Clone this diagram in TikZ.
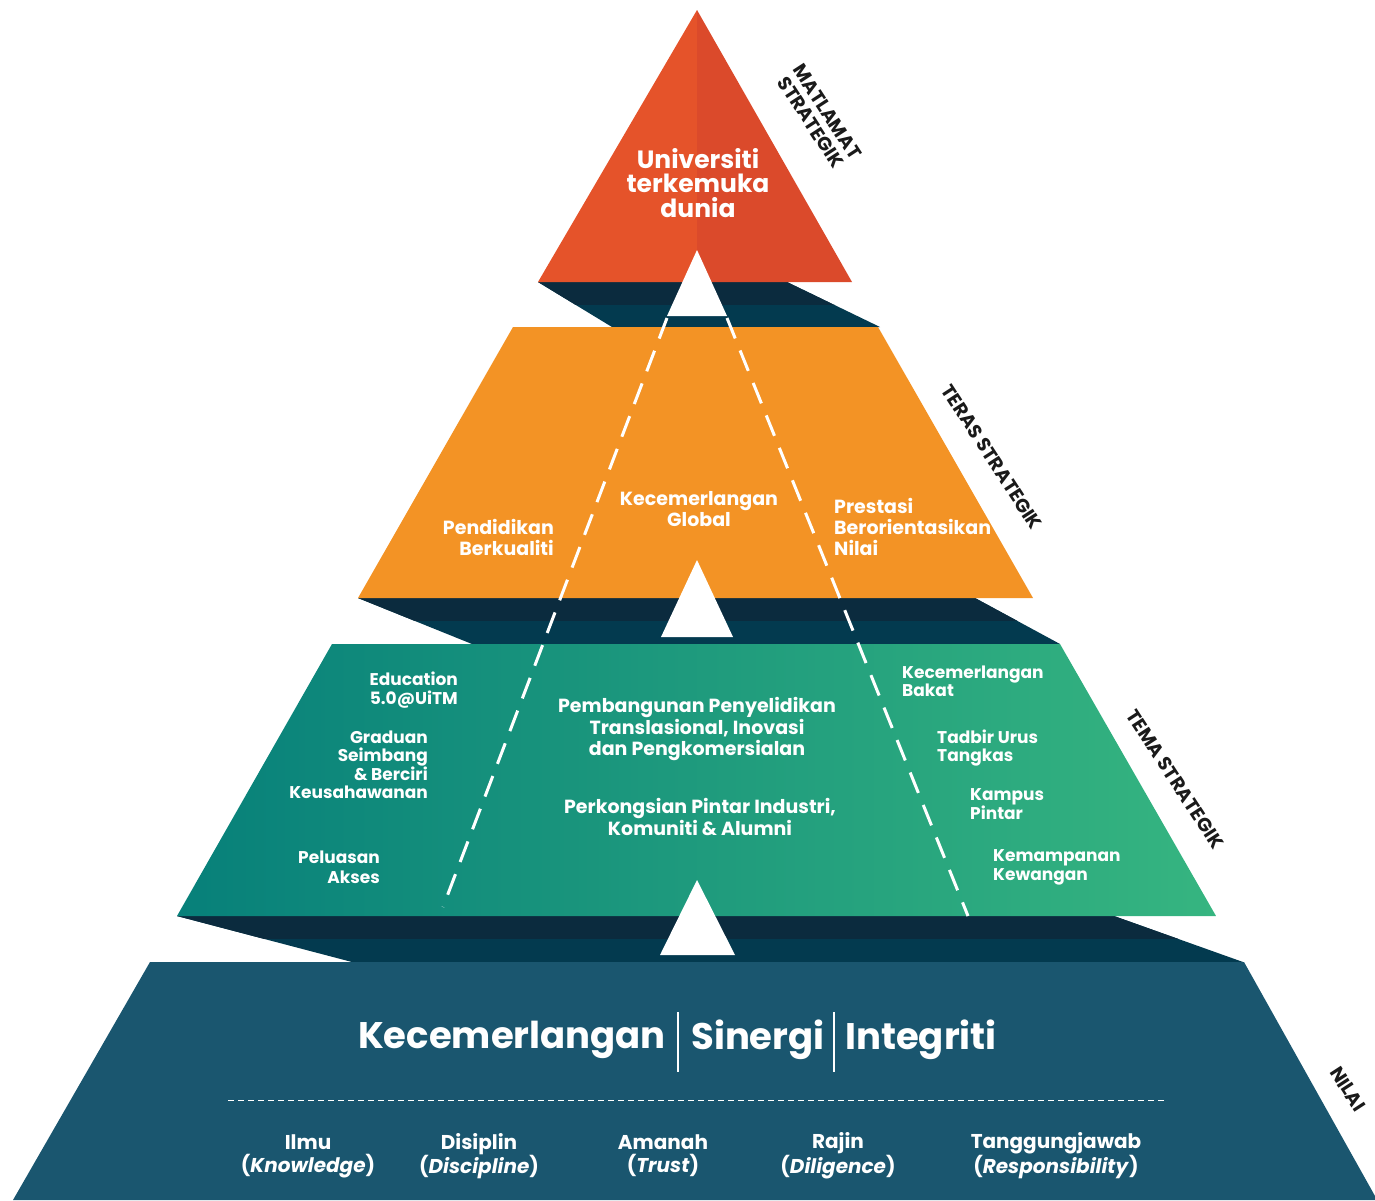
\documentclass[tikz,border=0pt]{standalone}
\usepackage{fontspec}
\setmainfont{Poppins}
\definecolor{topL}{HTML}{E5532A}
\definecolor{topR}{HTML}{DB4A2B}
\definecolor{orng}{HTML}{F39325}
\definecolor{shadA}{HTML}{0B2B3E}
\definecolor{shadB}{HTML}{033A4F}
\definecolor{tealL}{HTML}{07807A}
\definecolor{tealR}{HTML}{36B580}
\definecolor{navy}{HTML}{1A566F}
\definecolor{lbl}{HTML}{1A1A1A}
\newcommand\myfs[2]{\fontsize{#1}{#2}\selectfont}
\tikzset{
  wt/.style={text=white, font=\bfseries, inner sep=0pt},
  lab/.style={text=lbl, inner sep=0pt, rotate=-57, align=center, font=\bfseries\myfs{19}{19.5}},
  roadline/.style={white, line width=3pt, dash pattern=on 22pt off 13pt},
  whitetri/.style={fill=white},
  sepbar/.style={white, line width=2pt},
}
\begin{document}
\begin{tikzpicture}[x=1pt,y=-1pt]
\useasboundingbox (0,0) rectangle (1375,1200);
% ---------- shadow bands ----------
\fill[shadB] (538,282) -- (787,282) -- (880,327) -- (612,327) -- cycle;
\begin{scope}\clip (0,282) rectangle (1375,304);
\fill[shadA] (538,282) -- (787,282) -- (880,327) -- (612,327) -- cycle;
\end{scope}
\fill[shadB] (358,598) -- (975,598) -- (1060,644) -- (472,644) -- cycle;
\begin{scope}\clip (0,598) rectangle (1375,620);
\fill[shadA] (358,598) -- (975,598) -- (1060,644) -- (472,644) -- cycle;
\end{scope}
\fill[shadB] (177,916) -- (1114,916) -- (1243,962) -- (352,962) -- cycle;
\begin{scope}\clip (0,916) rectangle (1375,938);
\fill[shadA] (177,916) -- (1114,916) -- (1243,962) -- (352,962) -- cycle;
\end{scope}
% ---------- top triangle ----------
\fill[topL] (697,10) -- (697,282) -- (538,282) -- cycle;
\fill[topR] (697,10) -- (852,282) -- (697,282) -- cycle;
% ---------- orange trapezoid ----------
\fill[orng] (513,327) -- (878,327) -- (1033,598) -- (358,598) -- cycle;
% ---------- teal trapezoid ----------
\shade[left color=tealL, right color=tealR] (332,644) -- (1060,644) -- (1216,916) -- (177,916) -- cycle;
% ---------- bottom trapezoid ----------
\fill[navy] (150,962) -- (1244,962) -- (1375,1196) -- (1375,1200) -- (13,1200) -- cycle;
% ---------- dashed roads ----------
\coordinate (dl1) at (667,318);
\coordinate (dl2) at (443,907);
\coordinate (dr1) at (727,318);
\coordinate (dr2) at (968,916);
\draw[roadline] (dl1) -- (dl2);
\draw[roadline] (dr1) -- (dr2);
% ---------- white triangles ----------
\fill[whitetri] (697,250) -- (727,316) -- (667,316) -- cycle;
\fill[whitetri] (697,560) -- (733,637) -- (661,637) -- cycle;
\fill[whitetri] (697,880) -- (735,955) -- (660,955) -- cycle;
% ---------- texts: top ----------
\node[wt, align=center, font=\bfseries\myfs{25}{24.5}] (goal) at (698,183) {Universiti\\terkemuka\\dunia};
\node[lab] (lmat) at (819,117) {MATLAMAT\\STRATEGIK};
% ---------- texts: orange ----------
\node[wt, align=right, anchor=east, font=\bfseries\myfs{19}{21}] (t1) at (554,537) {Pendidikan\\Berkualiti};
\node[wt, align=center, font=\bfseries\myfs{19}{21}] (t2) at (699,509) {Kecemerlangan\\Global};
\node[wt, align=left, anchor=west, font=\bfseries\myfs{19}{21}] (t3) at (834,527) {Prestasi\\Berorientasikan\\Nilai};
\node[lab] (lteras) at (992,457) {TERAS STRATEGIK};
% ---------- texts: teal ----------
\node[wt, align=right, anchor=east, font=\bfseries\myfs{17}{19}] (m1) at (458,690) {Education\\5.0@UiTM};
\node[wt, align=right, anchor=east, font=\bfseries\myfs{17}{18}] (m2) at (428,765) {Graduan\\Seimbang\\\& Berciri\\Keusahawanan};
\node[wt, align=right, anchor=east, font=\bfseries\myfs{17}{20}] (m3) at (380,867) {Peluasan\\Akses};
\node[wt, align=center, font=\bfseries\myfs{19}{21.5}] (c1) at (697,729) {Pembangunan Penyelidikan\\Translasional, Inovasi\\dan Pengkomersialan};
\node[wt, align=center, font=\bfseries\myfs{19}{21.5}] (c2) at (700,817) {Perkongsian Pintar Industri,\\Komuniti \& Alumni};
\node[wt, align=left, anchor=west, font=\bfseries\myfs{17}{18}] (r1) at (902,681) {Kecemerlangan\\Bakat};
\node[wt, align=left, anchor=west, font=\bfseries\myfs{17}{18}] (r2) at (937,748) {Tadbir Urus\\Tangkas};
\node[wt, align=left, anchor=west, font=\bfseries\myfs{17}{16}] (r3) at (970,804) {Kampus\\Pintar};
\node[wt, align=left, anchor=west, font=\bfseries\myfs{17}{19}] (r4) at (993,867) {Kemampanan\\Kewangan};
\node[lab] (ltema) at (1175,779) {TEMA STRATEGIK};
% ---------- texts: bottom ----------
\node[wt, font=\bfseries\myfs{37}{40}] (v1) at (512,1040) {Kecemerlangan};
\node[wt, font=\bfseries\myfs{37}{40}] (v2) at (758,1040) {Sinergi};
\node[wt, font=\bfseries\myfs{37}{40}] (v3) at (921,1040) {Integriti};
\coordinate (b1t) at (678,1012); \coordinate (b1b) at (678,1072);
\coordinate (b2t) at (834,1012); \coordinate (b2b) at (834,1072);
\draw[sepbar] (b1t) -- (b1b);
\draw[sepbar] (b2t) -- (b2b);
\coordinate (hl1) at (228,1100); \coordinate (hl2) at (1166,1100);
\draw[white, line width=1pt, dash pattern=on 6pt off 4pt] (hl1) -- (hl2);
\node[wt, align=center, font=\bfseries\myfs{20}{23}] (w1) at (308,1156) {Ilmu\\(\textit{Knowledge})};
\node[wt, align=center, font=\bfseries\myfs{20}{23}] (w2) at (479,1156) {Disiplin\\(\textit{Discipline})};
\node[wt, align=center, font=\bfseries\myfs{20}{23}] (w3) at (663,1156) {Amanah\\(\textit{Trust})};
\node[wt, align=center, font=\bfseries\myfs{20}{23}] (w4) at (838,1156) {Rajin\\(\textit{Diligence})};
\node[wt, align=center, font=\bfseries\myfs{20}{23}] (w5) at (1056,1156) {Tanggungjawab\\(\textit{Responsibility})};
\node[lab] (lnilai) at (1348,1089) {NILAI};
\end{tikzpicture}
\end{document}
